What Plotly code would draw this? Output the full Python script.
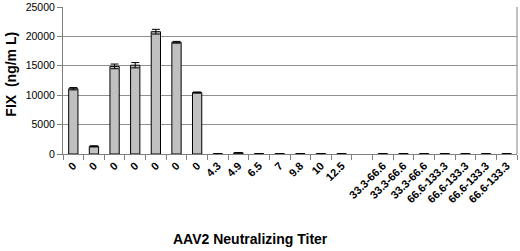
import plotly.graph_objects as go

categories = ["0", "0", "0", "0", "0", "0", "0", "4.3", "4.9", "6.5", "7", "9.8", "10", "12.5", "",
              "33.3-66.6", "33.3-66.6", "33.3-66.6", "66.6-133.3", "66.6-133.3", "66.6-133.3", "66.6-133.3"]
fix_values = [11100, 1300, 14900, 15100, 20800, 19000, 10450, 40, 200, 50, 60, 50, 60, 50, None,
              60, 60, 60, 60, 60, 60, 60]
fix_errors = [200, 100, 400, 450, 400, 150, 100, 10, 50, 10, 10, 10, 10, 10, None,
              10, 10, 10, 10, 10, 10, 10]

ids = ["c%d" % i for i in range(len(categories))]

fig = go.Figure()
fig.add_trace(go.Bar(
    x=ids, y=fix_values,
    width=0.45,
    marker=dict(color="#c0c0c0", line=dict(color="black", width=1)),
    error_y=dict(type="data", array=fix_errors, visible=True, color="black", thickness=1, width=4),
    showlegend=False,
))

fig.update_layout(
    width=520, height=251,
    margin=dict(l=63, r=3, t=7, b=97),
    paper_bgcolor="white", plot_bgcolor="white",
    font=dict(family="Arial, Liberation Sans, sans-serif", color="black"),
)

fig.update_xaxes(
    type="category", categoryorder="array", categoryarray=ids,
    tickmode="array", tickvals=ids, ticktext=categories,
    tickson="boundaries",
    tickangle=-45, ticks="outside", ticklen=5, tickcolor="#808080", showgrid=False,
    tickfont=dict(size=11, weight="bold"),
    showline=True, linecolor="#808080", linewidth=1,
    automargin=False, ticklabeloverflow="allow",
)

fig.update_yaxes(
    range=[0, 25000], tickmode="linear", tick0=0, dtick=5000, tickformat="d",
    showgrid=True, gridcolor="#909090", gridwidth=1,
    ticks="outside", ticklen=5, tickcolor="#808080",
    showline=True, linecolor="#808080", linewidth=1,
    tickfont=dict(size=10.5),
    zeroline=False, automargin=False, ticklabeloverflow="allow",
)

# right border of plot area
fig.add_shape(type="line", xref="paper", yref="paper", x0=1, x1=1, y0=0, y1=1,
              line=dict(color="#808080", width=1))

fig.add_annotation(text="FIX  (ng/m L)", xref="paper", yref="paper",
                   x=-0.1145, y=0.54, textangle=-90, showarrow=False,
                   xanchor="center", yanchor="middle",
                   font=dict(size=14, weight="bold"))

fig.add_annotation(text="AAV2 Neutralizing Titer", xref="paper", yref="paper",
                   x=0.412, y=-0.58, showarrow=False, xanchor="center", yanchor="middle",
                   font=dict(size=14, family="Liberation Sans Narrow, Arial Narrow, sans-serif", weight="bold"))

fig.write_html("out.html", config={"displayModeBar": False},
               post_script="document.body.style.margin='0';document.body.style.overflow='hidden';")
